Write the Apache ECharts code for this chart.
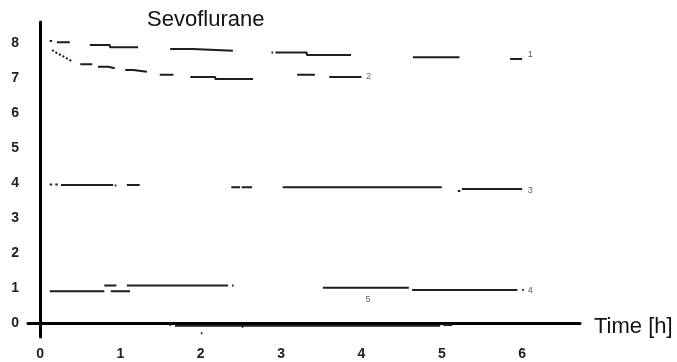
<!DOCTYPE html>
<html>
<head>
<meta charset="utf-8">
<title>Sevoflurane</title>
<script src="https://cdn.jsdelivr.net/npm/echarts@6/dist/echarts.min.js"></script>
<style>
  html, body { margin: 0; padding: 0; background: #fff; }
  #chart { width: 677px; height: 362px; }
</style>
</head>
<body>
<div id="chart"></div>
<script>
// time [h] / value pairs, null = gap between the dashed pieces
var upperTrace = [
  [0.12, 8.06], [0.15, 8.06], null,
  [0.21, 8.02], [0.37, 8.02], null,
  [0.62, 7.94], [0.87, 7.94], [0.87, 7.88], [1.22, 7.88], null,
  [1.62, 7.83], [1.90, 7.83], [1.90, 7.78], [2.40, 7.78], null,
  [2.88, 7.73], [2.90, 7.73], null,
  [2.93, 7.73], [3.32, 7.73], [3.32, 7.66], [3.87, 7.66], null,
  [4.64, 7.59], [5.22, 7.59], null,
  [5.85, 7.54], [6.00, 7.54]
];
var decayCurve = [[0.15, 7.80], [0.21, 7.71], [0.29, 7.62], [0.35, 7.54], [0.41, 7.46]];
var lowerTrace = [
  [0.50, 7.39], [0.65, 7.39], null,
  [0.72, 7.32], [0.85, 7.32], [0.85, 7.28], [0.93, 7.28], null,
  [1.06, 7.23], [1.16, 7.23], [1.16, 7.18], [1.33, 7.18], null,
  [1.49, 7.09], [1.66, 7.09], null,
  [1.87, 7.03], [2.18, 7.03], [2.18, 6.97], [2.65, 6.97], null,
  [3.20, 7.09], [3.42, 7.09], null,
  [3.60, 7.03], [4.00, 7.03]
];
var midTrace = [
  [0.12, 3.96], [0.15, 3.96], null,
  [0.19, 3.96], [0.22, 3.96], null,
  [0.26, 3.94], [0.91, 3.94], null,
  [0.93, 3.93], [0.95, 3.93], null,
  [1.08, 3.94], [1.24, 3.94], null,
  [2.38, 3.88], [2.49, 3.88], null,
  [2.51, 3.88], [2.64, 3.88], null,
  [3.02, 3.88], [5.00, 3.88], null,
  [5.20, 3.77], [5.23, 3.77], null,
  [5.25, 3.83], [6.00, 3.83]
];
var baseTrace = [
  [0.12, 0.91], [0.80, 0.91], null,
  [0.80, 1.07], [0.95, 1.07], null,
  [0.88, 0.91], [1.12, 0.91], null,
  [1.08, 1.07], [2.34, 1.07], null,
  [2.39, 1.07], [2.41, 1.07], null,
  [3.52, 1.01], [4.59, 1.01], null,
  [4.63, 0.94], [5.94, 0.94], null,
  [6.00, 0.94], [6.02, 0.94]
];
var zeroTrace = [
  [1.61, -0.06], [1.63, -0.06], null,
  [1.68, -0.08], [4.98, -0.08], null,
  [5.02, -0.06], [5.13, -0.06], null,
  [2.00, -0.29], [2.02, -0.29], null,
  [2.51, -0.11], [2.53, -0.11]
];
var curveLabels = ['1', '2', '3', '4', '5'];
var curveLabelPos = [[6.10, 7.68], [4.09, 7.03], [6.10, 3.78], [6.10, 0.94], [4.08, 0.68]];

var lineColor = '#1e1e1e';

function withGaps(trace) {
  var out = [];
  var lastX = 0;
  trace.forEach(function (p) {
    if (p === null) {
      out.push([lastX, '-']);
    } else {
      lastX = p[0];
      out.push(p);
    }
  });
  return out;
}

function traceSeries(name, trace, type) {
  return {
    name: name,
    type: 'line',
    data: withGaps(trace),
    showSymbol: false,
    connectNulls: false,
    silent: true,
    animation: false,
    lineStyle: { color: lineColor, width: 2, type: type || 'solid' }
  };
}

// only whole numbers on the axes
function intLabel(v) {
  return Math.abs(v - Math.round(v)) < 1e-6 ? Math.round(v) : '';
}

var myChart = echarts.init(document.getElementById('chart'));

myChart.setOption({
  animation: false,
  title: {
    text: 'Sevoflurane',
    left: 147,
    top: 9,
    padding: 0,
    textStyle: { fontFamily: 'Liberation Sans', fontSize: 22, fontWeight: 'normal', color: '#111' }
  },
  grid: { left: 28, right: 97, top: 22, bottom: 25, outerBoundsMode: 'none' },
  xAxis: {
    type: 'value',
    min: -0.15,
    max: 6.72,
    minInterval: 1,
    maxInterval: 1,
    name: 'Time [h]',
    nameLocation: 'end',
    nameGap: 14,
    nameTextStyle: { fontFamily: 'Liberation Sans', fontSize: 22, color: '#111', verticalAlign: 'top', lineHeight: 8 },
    axisLine: { onZero: true, lineStyle: { color: '#000', width: 3 } },
    axisTick: { show: false },
    splitLine: { show: false },
    axisLabel: {
      margin: 10,
      fontFamily: 'Liberation Sans',
      fontSize: 14,
      fontWeight: 'bold',
      color: '#222',
      showMinLabel: false,
      showMaxLabel: false,
      formatter: intLabel
    }
  },
  yAxis: {
    type: 'value',
    min: -0.4,
    max: 8.6,
    minInterval: 1,
    maxInterval: 1,
    axisLine: { onZero: true, lineStyle: { color: '#000', width: 3 } },
    axisTick: { show: false },
    splitLine: { show: false },
    axisLabel: {
      margin: 9,
      fontFamily: 'Liberation Sans',
      fontSize: 14,
      fontWeight: 'bold',
      color: '#222',
      showMinLabel: false,
      showMaxLabel: false,
      formatter: intLabel
    }
  },
  series: [
    traceSeries('upper', upperTrace),
    traceSeries('decay', decayCurve, 'dotted'),
    traceSeries('lower', lowerTrace),
    traceSeries('mid', midTrace),
    traceSeries('base', baseTrace),
    traceSeries('zero', zeroTrace),
    {
      name: 'labels',
      type: 'scatter',
      symbolSize: 0,
      silent: true,
      data: curveLabels.map(function (t, i) { return { name: t, value: curveLabelPos[i] }; }),
      label: {
        show: true,
        position: 'inside',
        formatter: '{b}',
        fontFamily: 'Liberation Sans',
        fontSize: 9,
        color: '#333'
      }
    }
  ]
});
</script>
</body>
</html>
